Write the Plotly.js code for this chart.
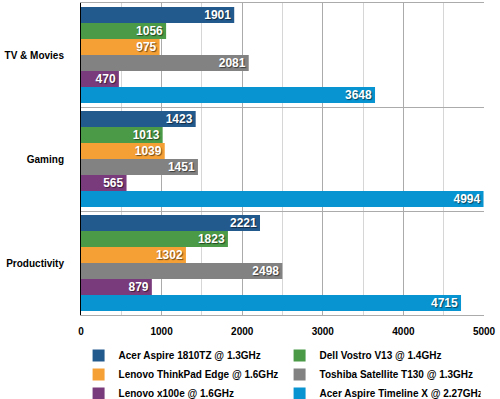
<!DOCTYPE html>
<html><head><meta charset="utf-8">
<script src="https://cdn.plot.ly/plotly-3.0.1.min.js"></script>
<style>html,body{margin:0;padding:0;background:#fff}#chart{width:500px;height:399px}</style>
</head><body><div id="chart"></div>
<script>
const categories = ["TV & Movies", "Gaming", "Productivity"];
const seriesNames = [
  "Acer Aspire 1810TZ @ 1.3GHz",
  "Dell Vostro V13 @ 1.4GHz",
  "Lenovo ThinkPad Edge @ 1.6GHz",
  "Toshiba Satellite T130 @ 1.3GHz",
  "Lenovo x100e @ 1.6GHz",
  "Acer Aspire Timeline X @ 2.27GHz"
];
const acer1810 = [1901, 1423, 2221];
const dellVostro = [1056, 1013, 1823];
const thinkpadEdge = [975, 1039, 1302];
const toshibaT130 = [2081, 1451, 2498];
const lenovoX100e = [470, 565, 879];
const acerTimelineX = [3648, 4994, 4715];
const seriesValues = [acer1810, dellVostro, thinkpadEdge, toshibaT130, lenovoX100e, acerTimelineX];
const colors = ["#235a8e", "#4a9a47", "#f5a034", "#828282", "#7a3b7c", "#0894d0"];

const traces = seriesNames.map((name, i) => ({
  type: "bar",
  orientation: "h",
  name: name,
  y: categories,
  x: seriesValues[i],
  marker: {color: colors[i], line: {width: 0}},
  text: seriesValues[i].map(String),
  textposition: "inside",
  insidetextanchor: "end",
  constraintext: "none",
  textfont: {family: "Liberation Sans Narrow, Liberation Sans, Arial", size: 12, weight: 700, color: "#fff", shadow: "1px 1px 1px rgba(0,0,0,0.55)"},
  hoverinfo: "skip"
}));

const layout = {
  width: 500, height: 399,
  margin: {l: 81, r: 16, t: 3, b: 84, autoexpand: false},
  paper_bgcolor: "#fff", plot_bgcolor: "#fff",
  barmode: "group", bargap: 0.077, bargroupgap: 0,
  showlegend: true,
  font: {family: "Liberation Sans, Arial, sans-serif", size: 10, color: "#000", weight: 700},
  xaxis: {
    range: [0, 5000], dtick: 1000, tick0: 0,
    showgrid: true, gridcolor: "#ababab", gridwidth: 1,
    minor: {dtick: 500, showgrid: true, gridcolor: "#d6d6d6", gridwidth: 1},
    showline: true, mirror: true, linecolor: "#ababab", linewidth: 1,
    zeroline: false,
    ticks: "outside", ticklen: 7, tickcolor: "rgba(0,0,0,0)",
    tickfont: {size: 10, weight: 700, color: "#000"},
    fixedrange: true
  },
  yaxis: {
    autorange: "reversed",
    tickson: "boundaries",
    showgrid: true, gridcolor: "#ababab", gridwidth: 1,
    showline: true, linecolor: "#000", linewidth: 1,
    ticks: "", ticklabelstandoff: 14,
    tickfont: {size: 10, weight: 700, color: "#000"},
    fixedrange: true
  },
  legend: {
    orientation: "h", x: -0.006, xanchor: "left", y: -0.083, yanchor: "top",
    entrywidth: 156, entrywidthmode: "pixels",
    itemwidth: 30, traceorder: "normal",
    font: {size: 10, weight: 700, color: "#000"},
    bgcolor: "rgba(0,0,0,0)"
  }
};

Plotly.newPlot("chart", traces, layout, {displayModeBar: false, staticPlot: true});
</script></body></html>
